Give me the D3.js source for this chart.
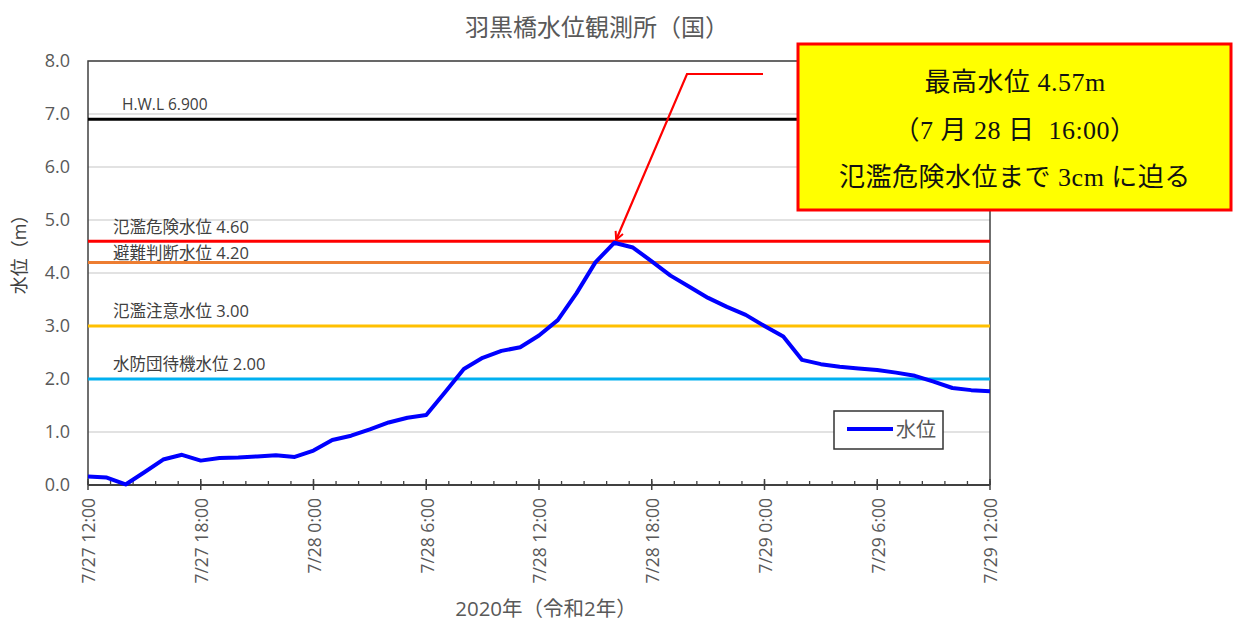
<!DOCTYPE html>
<html><head><meta charset="utf-8">
<script src="https://cdn.jsdelivr.net/npm/d3@7"></script>
<style>
body{margin:0;background:#fff;}
svg{display:block;}
</style></head>
<body>
<svg id="c" width="1239" height="624"></svg>
<script>
// ---- data ----
const startTime = "2020-07-27T12:00:00";
const endTime = "2020-07-29T12:00:00";
const waterLevel = [
  0.16,0.14,0.01,0.24,0.48,0.57,0.46,0.51,0.52,0.54,0.56,0.53,
  0.65,0.85,0.93,1.05,1.18,1.27,1.32,1.75,2.19,2.40,2.53,2.60,
  2.82,3.11,3.62,4.20,4.57,4.48,4.22,3.95,3.74,3.53,3.36,3.21,
  3.00,2.80,2.36,2.28,2.23,2.20,2.17,2.12,2.06,1.95,1.83,1.79,1.77
];
const levelNames = ["H.W.L 6.900","氾濫危険水位 4.60","避難判断水位 4.20","氾濫注意水位 3.00","水防団待機水位 2.00"];
const levelValues = [6.9,4.6,4.2,3.0,2.0];
const yTicks = [0,1,2,3,4,5,6,7,8];
const seriesName = "水位";
const titleText = "羽黒橋水位観測所（国）";
const yTitle = "水位（m）";
const xTitle = "2020年（令和2年）";
const noteLines = ["最高水位 4.57m","（7 月 28 日\u00a0 16:00）","氾濫危険水位まで 3cm に迫る"];
const peakIndex = 28;

// ---- styles ----
const levelColors = ["#000000","#ff0000","#ed7d31","#ffc000","#00b0f0"];
const labelOffsets = [9,8,3,9,9];
const gray = "#595959";
const sans = "'Open Sans','Noto Sans CJK JP',sans-serif";
const serif = "'Liberation Serif','Noto Sans CJK JP',serif";

const svg = d3.select("#c");
const M = {l:88, r:990, t:61, b:485};
const t0 = new Date(startTime), t1 = new Date(endTime);
const times = d3.timeHour.range(t0, d3.timeHour.offset(t1,1));
const x = d3.scaleTime().domain([t0,t1]).range([M.l,M.r]);
const y = d3.scaleLinear().domain([0,8]).range([M.b,M.t]);

// gridlines
svg.append("g").selectAll("line").data(yTicks.filter(d=>d>0)).join("line")
  .attr("x1",M.l).attr("x2",M.r).attr("y1",d=>y(d)).attr("y2",d=>y(d))
  .attr("stroke","#d9d9d9").attr("stroke-width",1.3);

// frame (left, top, right)
svg.append("path").attr("d",`M${M.l},${M.b}V${M.t}H${M.r}V${M.b}`)
  .attr("fill","none").attr("stroke","#404040").attr("stroke-width",1.5);

// y tick labels
svg.append("g").selectAll("text").data(yTicks).join("text")
  .attr("x",70).attr("y",d=>y(d)).attr("dy","0.36em").attr("text-anchor","end")
  .attr("font-family",sans).attr("font-size",18).attr("fill",gray)
  .text(d=>d3.format(".1f")(d));

// threshold lines
const lvl = svg.append("g");
levelValues.forEach((v,i)=>{
  lvl.append("line").attr("x1",M.l).attr("x2",M.r).attr("y1",y(v)).attr("y2",y(v))
    .attr("stroke",levelColors[i]).attr("stroke-width",3);
  lvl.append("text").attr("x", i===0?122:113).attr("y",y(v)-labelOffsets[i])
    .attr("font-family",sans).attr("font-size",i===0?15.5:16.5).attr("fill","#404040")
    .text(levelNames[i]);
});

// x axis
const xAxisG = svg.append("g");
xAxisG.append("line").attr("x1",M.l).attr("x2",M.r).attr("y1",M.b).attr("y2",M.b)
  .attr("stroke","#404040").attr("stroke-width",2);
const minor = d3.range(0,41).map(k=>new Date(+t0 + k*72*60000));
xAxisG.selectAll("line.mn").data(minor).join("line").attr("class","mn")
  .attr("x1",d=>x(d)).attr("x2",d=>x(d)).attr("y1",M.b-4).attr("y2",M.b)
  .attr("stroke","#404040").attr("stroke-width",1.3);
const major = d3.timeHour.every(6).range(t0, d3.timeHour.offset(t1,1));
xAxisG.selectAll("line.mj").data(major).join("line").attr("class","mj")
  .attr("x1",d=>x(d)).attr("x2",d=>x(d)).attr("y1",M.b-6).attr("y2",M.b+5)
  .attr("stroke","#404040").attr("stroke-width",1.5);
xAxisG.selectAll("text").data(major).join("text")
  .attr("transform",d=>`translate(${x(d)+1},${M.b+13}) rotate(-90)`)
  .attr("dy","0.36em")
  .attr("text-anchor","end").attr("font-family",sans).attr("font-size",17.5).attr("fill",gray)
  .text(d=>`${d.getMonth()+1}/${d.getDate()} ${d.getHours()}:00`);

// series line
const line = d3.line().x((d,i)=>x(times[i])).y(d=>y(d));
svg.append("path").datum(waterLevel).attr("d",line)
  .attr("fill","none").attr("stroke","#0000ff").attr("stroke-width",4).attr("stroke-linejoin","round");

// legend
const lg = svg.append("g");
lg.append("rect").attr("x",834).attr("y",411).attr("width",109).attr("height",38)
  .attr("fill","#fff").attr("stroke","#333").attr("stroke-width",1.5);
lg.append("line").attr("x1",847).attr("x2",893).attr("y1",429).attr("y2",429)
  .attr("stroke","#0000ff").attr("stroke-width",4);
lg.append("text").attr("x",896).attr("y",430).attr("dy","0.36em")
  .attr("font-family",sans).attr("font-size",20).attr("fill",gray).text(seriesName);

// titles
svg.append("text").attr("x",597).attr("y",27).attr("dy","0.36em").attr("text-anchor","middle")
  .attr("font-family",sans).attr("font-size",24).attr("fill",gray).text(titleText);
svg.append("text").attr("transform","translate(20,250) rotate(-90)").attr("dy","0.36em")
  .attr("text-anchor","middle").attr("font-family",sans).attr("font-size",18).attr("fill","#404040").text(yTitle);
svg.append("text").attr("x",546).attr("y",609).attr("dy","0.36em").attr("text-anchor","middle")
  .attr("font-family",sans).attr("font-size",20.5).attr("fill",gray).text(xTitle);

// callout arrow
const px = x(times[peakIndex]), py = y(waterLevel[peakIndex]);
svg.append("defs").append("marker").attr("id","ah").attr("viewBox","0 0 10 10")
  .attr("refX",9).attr("refY",5).attr("markerWidth",10).attr("markerHeight",10)
  .attr("orient","auto").attr("markerUnits","userSpaceOnUse")
  .append("path").attr("d","M1,1L9,5L1,9").attr("fill","none").attr("stroke","#ff0000").attr("stroke-width",2);
svg.append("path").attr("d",`M763,74H687L${px+2},${py-3}`)
  .attr("fill","none").attr("stroke","#ff0000").attr("stroke-width",2.2)
  .attr("marker-end","url(#ah)");

// callout box
const nb = svg.append("g");
nb.append("rect").attr("x",798).attr("y",44).attr("width",433).attr("height",166)
  .attr("fill","#ffff00").attr("stroke","#ff0000").attr("stroke-width",3);
noteLines.forEach((s,i)=>{
  nb.append("text").attr("x",1015).attr("y",91+i*47.5).attr("text-anchor","middle")
    .attr("font-family",serif).attr("font-size",26).attr("letter-spacing",0.5).attr("fill","#111").text(s);
});
</script>
</body></html>
